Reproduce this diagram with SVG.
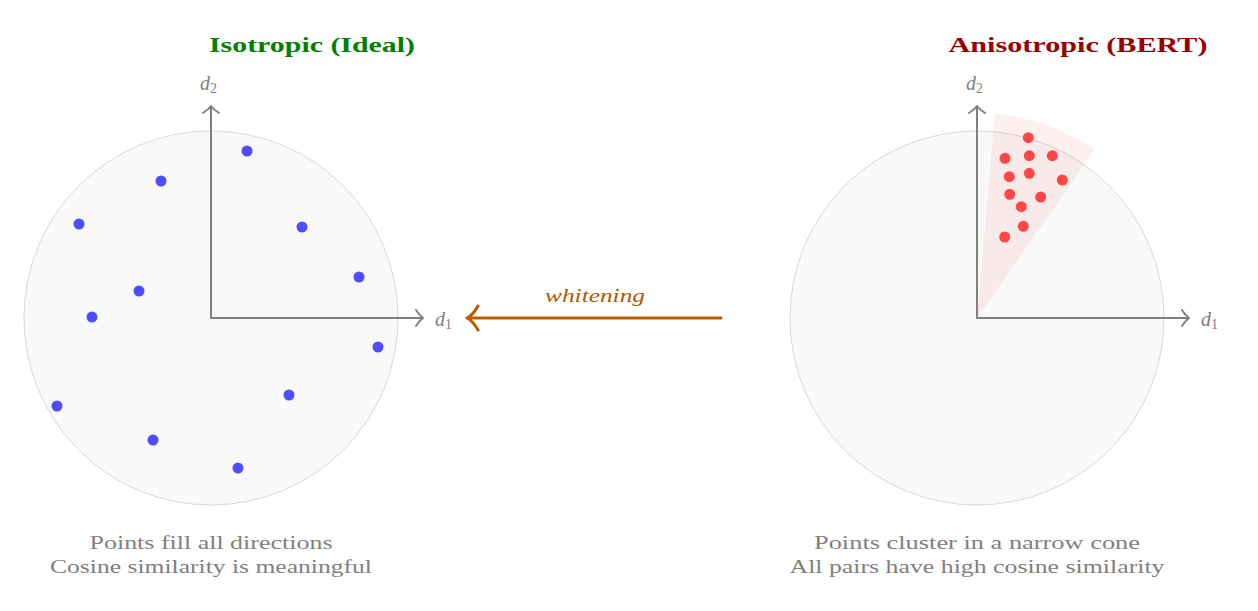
<svg xmlns="http://www.w3.org/2000/svg" width="1258" height="611" viewBox="0 0 1258 611">
<style>
.title{font-family:"Liberation Serif",serif;font-weight:bold;font-size:21px;text-anchor:middle}
.cap{font-family:"Liberation Serif",serif;font-size:18.5px;fill:#808080;text-anchor:middle}
.lab{font-family:"Liberation Serif",serif;font-style:italic;font-size:20px;fill:#808080}
.sub{font-style:normal;font-size:14px}
.disk{fill:#f9f9f9;stroke:#d9d9d9;stroke-width:1}
.axis{stroke:#808080;stroke-width:2;fill:none;stroke-linecap:round;stroke-linejoin:round}
.b{fill:#4d4dff}
.r{fill:#ff4747}
</style>
<rect width="1258" height="611" fill="#ffffff"/>

<g id="isotropic">
  <text class="title" x="312" y="52" fill="#008000" textLength="206" lengthAdjust="spacingAndGlyphs">Isotropic (Ideal)</text>
  <circle class="disk" cx="211" cy="318" r="187"/>
  <g id="iso-axes">
    <path class="axis" d="M211,318 H423 M416,310 Q419,315 423,318 Q419,321 416,326"/>
    <path class="axis" d="M211,318 V106 M203,113 Q208,110 211,106 Q214,110 219,113"/>
    <text class="lab" x="435" y="326">d<tspan class="sub" dy="3">1</tspan></text>
    <text class="lab" x="200" y="90">d<tspan class="sub" dy="3">2</tspan></text>
  </g>
  <g id="iso-points">
    <circle class="b" cx="247" cy="151" r="5.5"/>
    <circle class="b" cx="161" cy="181" r="5.5"/>
    <circle class="b" cx="79" cy="224" r="5.5"/>
    <circle class="b" cx="302" cy="227" r="5.5"/>
    <circle class="b" cx="359" cy="277" r="5.5"/>
    <circle class="b" cx="139" cy="291" r="5.5"/>
    <circle class="b" cx="92" cy="317" r="5.5"/>
    <circle class="b" cx="378" cy="347" r="5.5"/>
    <circle class="b" cx="57" cy="406" r="5.5"/>
    <circle class="b" cx="289" cy="395" r="5.5"/>
    <circle class="b" cx="153" cy="440" r="5.5"/>
    <circle class="b" cx="238" cy="468" r="5.5"/>
  </g>
  <text class="cap" x="211" y="549" textLength="243" lengthAdjust="spacingAndGlyphs">Points fill all directions</text>
  <text class="cap" x="211" y="573" textLength="322" lengthAdjust="spacingAndGlyphs">Cosine similarity is meaningful</text>
</g>

<g id="anisotropic">
  <text class="title" x="1078" y="52" fill="#990000" textLength="259" lengthAdjust="spacingAndGlyphs">Anisotropic (BERT)</text>
  <circle class="disk" cx="977" cy="318" r="187"/>
  <path id="cone" d="M977,318 L994.9,113.8 A205,205 0 0 1 1094.6,150.1 Z" fill="#ff0000" fill-opacity="0.06"/>
  <g id="aniso-axes">
    <path class="axis" d="M977,318 H1189 M1182,310 Q1185,315 1189,318 Q1185,321 1182,326"/>
    <path class="axis" d="M977,318 V106 M969,113 Q974,110 977,106 Q980,110 985,113"/>
    <text class="lab" x="1201" y="326">d<tspan class="sub" dy="3">1</tspan></text>
    <text class="lab" x="966" y="90">d<tspan class="sub" dy="3">2</tspan></text>
  </g>
  <g id="aniso-points">
    <circle class="r" cx="1028.3" cy="137.7" r="5.5"/>
    <circle class="r" cx="1005" cy="158.3" r="5.5"/>
    <circle class="r" cx="1029.3" cy="155.7" r="5.5"/>
    <circle class="r" cx="1052.3" cy="155.7" r="5.5"/>
    <circle class="r" cx="1009.3" cy="176.7" r="5.5"/>
    <circle class="r" cx="1029.3" cy="173.3" r="5.5"/>
    <circle class="r" cx="1062.3" cy="180" r="5.5"/>
    <circle class="r" cx="1009.7" cy="194.3" r="5.5"/>
    <circle class="r" cx="1040.7" cy="197" r="5.5"/>
    <circle class="r" cx="1021.3" cy="206.7" r="5.5"/>
    <circle class="r" cx="1023.3" cy="226.3" r="5.5"/>
    <circle class="r" cx="1004.7" cy="237" r="5.5"/>
  </g>
  <text class="cap" x="977" y="549" textLength="326" lengthAdjust="spacingAndGlyphs">Points cluster in a narrow cone</text>
  <text class="cap" x="977" y="573" textLength="375" lengthAdjust="spacingAndGlyphs">All pairs have high cosine similarity</text>
</g>

<g id="connectors">
  <path d="M721,318 H468 M478,306 Q473,315 467,318 Q473,321 478,330" fill="none" stroke="#bf5a00" stroke-width="3" stroke-linecap="round" stroke-linejoin="round"/>
  <text x="595" y="302" font-family="'Liberation Serif',serif" font-style="italic" font-size="18" fill="#b35900" text-anchor="middle" textLength="100" lengthAdjust="spacingAndGlyphs">whitening</text>
</g>
</svg>
